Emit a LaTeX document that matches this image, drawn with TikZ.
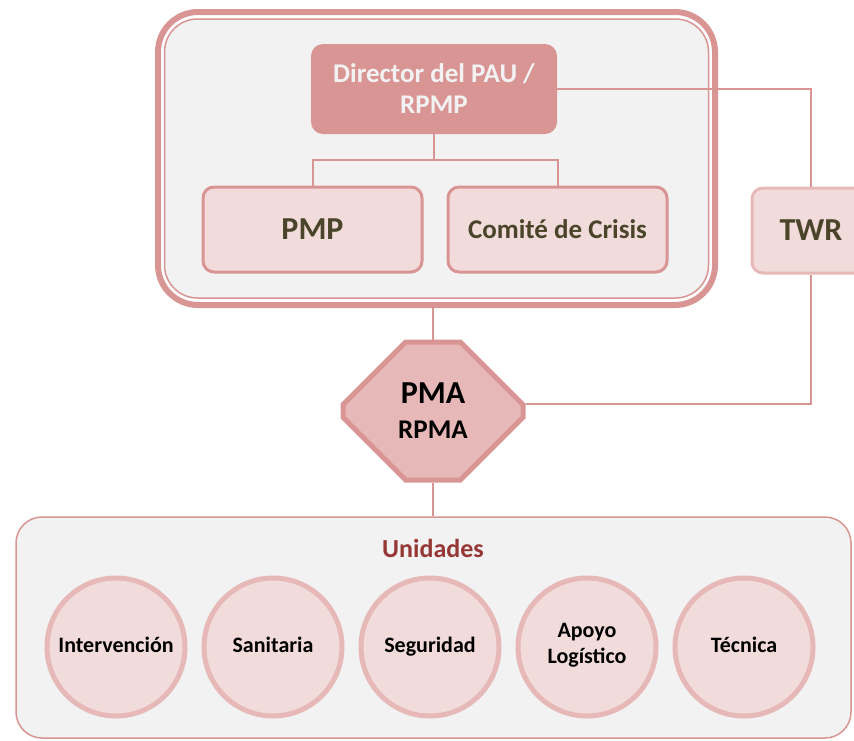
\documentclass[tikz,border=0pt]{standalone}
\usepackage{fontspec}
\setmainfont{Carlito}
\usetikzlibrary{positioning}
\usetikzlibrary{shapes.misc}

\definecolor{rosa}{HTML}{D99594}
\definecolor{rosaclaro}{HTML}{E6B8B7}
\definecolor{rosapalido}{HTML}{F2DCDB}
\definecolor{gris}{HTML}{F2F2F2}
\definecolor{oliva}{HTML}{4A452A}
\definecolor{granate}{HTML}{953735}

\begin{document}
\begin{tikzpicture}[x=1pt, y=-1pt,
marco/.style={draw=rosa, line width=6pt, rounded corners=40pt, inner sep=0},
marcointerior/.style={draw=rosa, fill=gris, line width=1.5pt, rounded corners=33pt, inner sep=0},
director/.style={fill=rosa, rounded corners=12pt, text=gris, align=center, inner sep=0,
  font=\bfseries\fontsize{27}{31}\selectfont},
caja/.style={draw=rosa, fill=rosapalido, line width=3pt, rounded corners=11pt, text=oliva, inner sep=0},
twrcaja/.style={draw=rosaclaro, fill=rosapalido, line width=3pt, rounded corners=11pt, text=oliva, inner sep=0},
octogono/.style={chamfered rectangle, chamfered rectangle xsep=40pt, chamfered rectangle ysep=40pt,
  draw=rosa, fill=rosaclaro, line width=5pt, align=center, inner sep=0},
grupo/.style={draw=rosa, fill=gris, line width=1.5pt, rounded corners=26pt, inner sep=0},
unidad/.style={circle, draw=rosaclaro, fill=rosapalido, line width=5pt, minimum size=138pt, inner sep=0,
  align=center, font=\bfseries\fontsize{22}{26}\selectfont},
conector/.style={draw=rosa, line width=2pt}]

% SIZE OF THE PICTURE
\useasboundingbox (0,0) rectangle (854,740);

%%%%%%%%% PUESTO DE MANDO %%%%%%%%%
\node[marco, minimum width=557pt, minimum height=293pt] (marco) at (436.5,158.5) {};
\node[marcointerior, minimum width=544pt, minimum height=279pt] (interior) at (436.5,158.5) {};
\node[director, minimum width=246pt, minimum height=90pt] (dir) at (434,89) {Director del PAU /\\RPMP};
\node[caja, minimum width=219pt, minimum height=85pt, font=\bfseries\fontsize{32}{38}\selectfont] (pmp) at (312.5,229.5) {PMP};
\node[caja, minimum width=219pt, minimum height=85pt, font=\bfseries\fontsize{27}{31}\selectfont] (comite) at (557.5,229.5) {Comit\'e de Crisis};

% TWR
\node[twrcaja, minimum width=118pt, minimum height=85pt, font=\bfseries\fontsize{32}{38}\selectfont] (twr) at (811,230.5) {TWR};

% PMA
\node[octogono, minimum width=180pt, minimum height=138pt, font=\bfseries\fontsize{27}{35}\selectfont] (pma) at (433,411)
  {{\fontsize{32}{35}\selectfont PMA}\\RPMA};

%%%%%%%%% UNIDADES %%%%%%%%%
\node[grupo, minimum width=835pt, minimum height=221pt] (unidades) at (433.5,627.5) {};
\node[text=granate, font=\bfseries\fontsize{26}{31}\selectfont] (titulo) at (433,548) {Unidades};
\foreach \nombre [count=\i] in {Intervenci\'on, Sanitaria, Seguridad, {Apoyo\\Log\'istico}, T\'ecnica}
  \node[unidad] (u\i) at (116+157*\i-157,647) {\nombre\strut};

% CONECTORES
\draw[conector] (dir.south) -- ++(0,26) -| (pmp.north);
\draw[conector] (dir.south) -- ++(0,26) -| (comite.north);
\draw[conector] (dir.east) -| (twr.north);
\draw[conector] (twr.south) |- ([yshift=7pt]pma.east);
\draw[conector] (pma.north) -- (pma.north |- marco.south);
\draw[conector] (pma.south) -- (pma.south |- unidades.north);
\end{tikzpicture}
\end{document}
